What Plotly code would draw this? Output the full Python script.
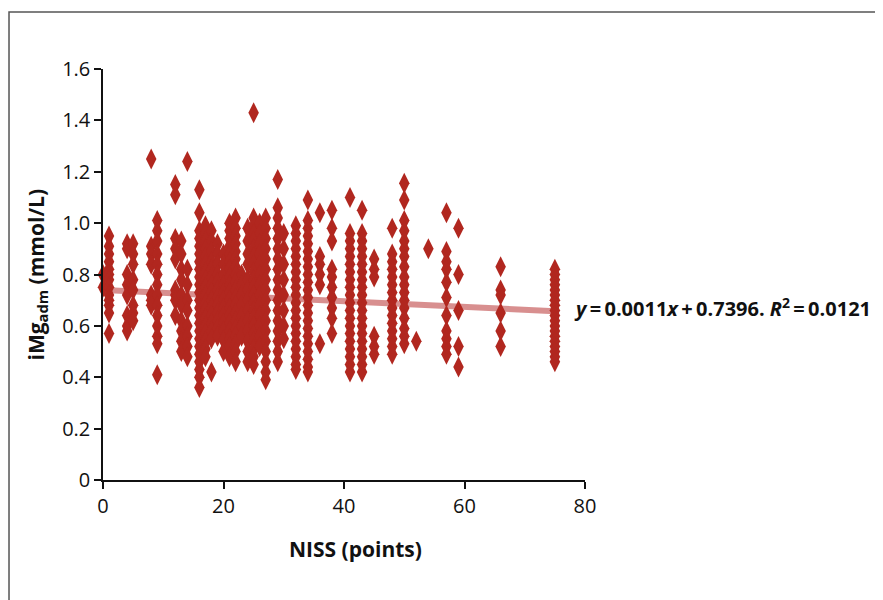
import plotly.graph_objects as go

# ---- data ----
niss_cols = [0, 1, 4, 5, 8, 9, 12, 13, 14, 16, 17, 18, 19, 20, 21, 22, 23, 24, 25, 26, 27,
             29, 30, 32, 34, 36, 38, 41, 43, 45, 48, 50, 52, 54, 57, 59, 66, 75]
img_0 = [0.80, 0.75]
img_1 = [0.95, 0.91, 0.88, 0.85, 0.82, 0.80, 0.78, 0.75, 0.72, 0.70, 0.68, 0.65, 0.57]
img_4 = [0.92, 0.90, 0.80, 0.76, 0.72, 0.64, 0.60, 0.58]
img_5 = [0.92, 0.88, 0.84, 0.78, 0.74, 0.68, 0.65, 0.62]
img_8 = [1.25, 0.91, 0.88, 0.84, 0.72, 0.70, 0.68]
img_9 = [1.01, 0.97, 0.93, 0.88, 0.84, 0.80, 0.76, 0.72, 0.68, 0.64, 0.60, 0.56, 0.53, 0.41]
img_12 = [1.15, 1.11, 0.94, 0.90, 0.86, 0.74, 0.72, 0.70, 0.64]
img_13 = [0.93, 0.88, 0.82, 0.78, 0.72, 0.68, 0.62, 0.58, 0.54, 0.50]
img_14 = [1.24, 0.82, 0.76, 0.70, 0.66, 0.60, 0.56, 0.52, 0.48]
img_16 = [1.13, 1.04, 0.97, 0.94, 0.91, 0.88, 0.85, 0.82, 0.79, 0.76, 0.73, 0.70, 0.67, 0.64,
          0.61, 0.58, 0.55, 0.52, 0.49, 0.46, 0.43, 0.40, 0.36]
img_17 = [0.99, 0.96, 0.93, 0.90, 0.87, 0.84, 0.81, 0.78, 0.75, 0.72, 0.69, 0.66, 0.63, 0.60,
          0.57, 0.54, 0.51, 0.48]
img_18 = [0.97, 0.93, 0.89, 0.85, 0.82, 0.79, 0.76, 0.73, 0.70, 0.67, 0.64, 0.61, 0.58, 0.55, 0.42]
img_19 = [0.92, 0.88, 0.84, 0.80, 0.77, 0.74, 0.71, 0.68, 0.65, 0.62, 0.59, 0.56]
img_20 = [0.88, 0.84, 0.80, 0.76, 0.73, 0.70, 0.67, 0.64, 0.61, 0.58, 0.545, 0.50]
img_21 = [1.00, 0.97, 0.94, 0.91, 0.88, 0.85, 0.82, 0.79, 0.76, 0.73, 0.70, 0.67, 0.64, 0.61,
          0.58, 0.55, 0.52, 0.48]
img_22 = [1.02, 0.98, 0.95, 0.92, 0.89, 0.86, 0.83, 0.80, 0.77, 0.74, 0.71, 0.68, 0.65, 0.62,
          0.59, 0.56, 0.53, 0.50, 0.46]
img_23 = [0.80, 0.76, 0.72, 0.68, 0.64, 0.60, 0.56]
img_24 = [0.98, 0.93, 0.88, 0.84, 0.78, 0.74, 0.70, 0.66, 0.62, 0.58, 0.54, 0.50, 0.46]
img_25 = [1.43, 1.02, 0.99, 0.96, 0.93, 0.90, 0.87, 0.84, 0.81, 0.78, 0.75, 0.72, 0.69, 0.66,
          0.63, 0.60, 0.57, 0.54, 0.51, 0.48, 0.45]
img_26 = [1.00, 0.96, 0.92, 0.88, 0.84, 0.80, 0.76, 0.72, 0.68, 0.64, 0.60, 0.56, 0.52]
img_27 = [1.02, 0.98, 0.94, 0.90, 0.86, 0.82, 0.78, 0.74, 0.70, 0.66, 0.62, 0.58, 0.54, 0.50,
          0.46, 0.42, 0.39]
img_29 = [1.17, 1.06, 1.02, 0.98, 0.94, 0.90, 0.86, 0.82, 0.78, 0.74, 0.70, 0.66, 0.62, 0.58,
          0.54, 0.50, 0.46]
img_30 = [0.96, 0.90, 0.84, 0.78, 0.72, 0.66, 0.60, 0.55]
img_32 = [0.99, 0.96, 0.93, 0.90, 0.87, 0.84, 0.81, 0.78, 0.75, 0.72, 0.69, 0.66, 0.63, 0.60,
          0.57, 0.54, 0.51, 0.48, 0.45, 0.43]
img_34 = [1.09, 1.01, 0.98, 0.95, 0.92, 0.89, 0.86, 0.83, 0.80, 0.77, 0.74, 0.71, 0.68, 0.65,
          0.62, 0.59, 0.56, 0.53, 0.50, 0.47, 0.44, 0.42]
img_36 = [1.04, 0.87, 0.84, 0.80, 0.76, 0.53]
img_38 = [1.05, 0.98, 0.93, 0.82, 0.79, 0.75, 0.71, 0.67, 0.63, 0.57]
img_41 = [1.10, 0.96, 0.93, 0.90, 0.87, 0.84, 0.81, 0.78, 0.75, 0.72, 0.69, 0.66, 0.63, 0.60,
          0.57, 0.54, 0.51, 0.48, 0.45, 0.42]
img_43 = [1.05, 0.96, 0.93, 0.90, 0.87, 0.84, 0.81, 0.78, 0.75, 0.72, 0.69, 0.66, 0.63, 0.60,
          0.57, 0.54, 0.51, 0.48, 0.45, 0.42]
img_45 = [0.86, 0.82, 0.79, 0.56, 0.52, 0.49]
img_48 = [0.98, 0.88, 0.85, 0.82, 0.79, 0.76, 0.73, 0.70, 0.67, 0.64, 0.61, 0.58, 0.55, 0.52, 0.49]
img_50 = [1.155, 1.09, 1.01, 0.97, 0.93, 0.90, 0.87, 0.83, 0.79, 0.76, 0.73, 0.70, 0.67, 0.63,
          0.59, 0.56, 0.53]
img_52 = [0.54]
img_54 = [0.90]
img_57 = [1.04, 0.89, 0.85, 0.82, 0.77, 0.71, 0.64, 0.58, 0.55, 0.52, 0.49]
img_59 = [0.98, 0.80, 0.66, 0.52, 0.44]
img_66 = [0.83, 0.74, 0.72, 0.65, 0.58, 0.52]
img_75 = [0.82, 0.80, 0.78, 0.76, 0.74, 0.72, 0.70, 0.68, 0.66, 0.64, 0.62, 0.60, 0.58, 0.56,
          0.54, 0.52, 0.50, 0.48, 0.46]

img_cols = [img_0, img_1, img_4, img_5, img_8, img_9, img_12, img_13, img_14, img_16, img_17,
            img_18, img_19, img_20, img_21, img_22, img_23, img_24, img_25, img_26, img_27,
            img_29, img_30, img_32, img_34, img_36, img_38, img_41, img_43, img_45, img_48,
            img_50, img_52, img_54, img_57, img_59, img_66, img_75]

trend_slope = -0.0011
trend_intercept = 0.7396
trend_x = [1, 75]

x_ticks = [0, 20, 40, 60, 80]
y_ticks = [0, 0.2, 0.4, 0.6, 0.8, 1.0, 1.2, 1.4, 1.6]
y_ticktext = ["0", "0.2", "0.4", "0.6", "0.8", "1.0", "1.2", "1.4", "1.6"]

xs, ys = [], []
for n, col in zip(niss_cols, img_cols):
    xs += [n] * len(col)
    ys += col

FONT = "Open Sans"
RED = "#b1271f"
TS = "\u2009"  # thin space

fig = go.Figure()
fig.add_trace(go.Scatter(
    x=trend_x, y=[trend_slope * v + trend_intercept for v in trend_x],
    mode="lines", line=dict(color="rgba(200,95,95,0.7)", width=6), hoverinfo="skip"))
fig.add_trace(go.Scatter(
    x=xs, y=ys, mode="markers",
    marker=dict(symbol="diamond-tall", size=15, color=RED, line=dict(width=0)),
    cliponaxis=False))

eq_text = (f"<b><i>y</i>{TS}={TS}0.0011<i>x</i>{TS}+{TS}0.7396. "
           f"<i>R</i><sup>2</sup>{TS}={TS}0.0121</b>")

fig.update_layout(
    width=875, height=592,
    margin=dict(l=95, r=298, t=61, b=120),
    paper_bgcolor="white", plot_bgcolor="white",
    showlegend=False,
    font=dict(family=FONT, size=20, color="#111"),
    xaxis=dict(range=[0, 80], tickvals=x_ticks, ticks="outside", ticklen=7, tickwidth=1.5,
               tickcolor="#111", showline=True, linecolor="#111", linewidth=1.5,
               showgrid=False, zeroline=False, tickfont=dict(size=20)),
    yaxis=dict(range=[0, 1.6], tickvals=y_ticks, ticktext=y_ticktext, ticks="outside",
               ticklen=7, tickwidth=1.5, tickcolor="#111", showline=True, linecolor="#111",
               linewidth=1.5, showgrid=False, zeroline=False, tickfont=dict(size=20)),
    shapes=[dict(type="rect", xref="paper", yref="paper", x0=-0.195, x1=2, y0=-2, y1=1.1387,
                 line=dict(color="#555", width=1.5), fillcolor="rgba(0,0,0,0)", layer="below")],
    annotations=[
        dict(text="<b>iMg<sub>adm</sub> (mmol/L)</b>", textangle=-90, xref="paper", yref="paper",
             x=-0.139, y=0.5, showarrow=False, font=dict(size=21), xanchor="center", yanchor="middle"),
        dict(text="<b>NISS (points)</b>", xref="paper", yref="paper", x=0.523, y=-0.168,
             showarrow=False, font=dict(size=21), xanchor="center", yanchor="middle"),
        dict(text=eq_text, xref="paper", yref="paper", x=0.973, y=0.42, showarrow=False,
             font=dict(size=20), xanchor="left", yanchor="middle"),
    ],
)

fig.write_html("out.html")
